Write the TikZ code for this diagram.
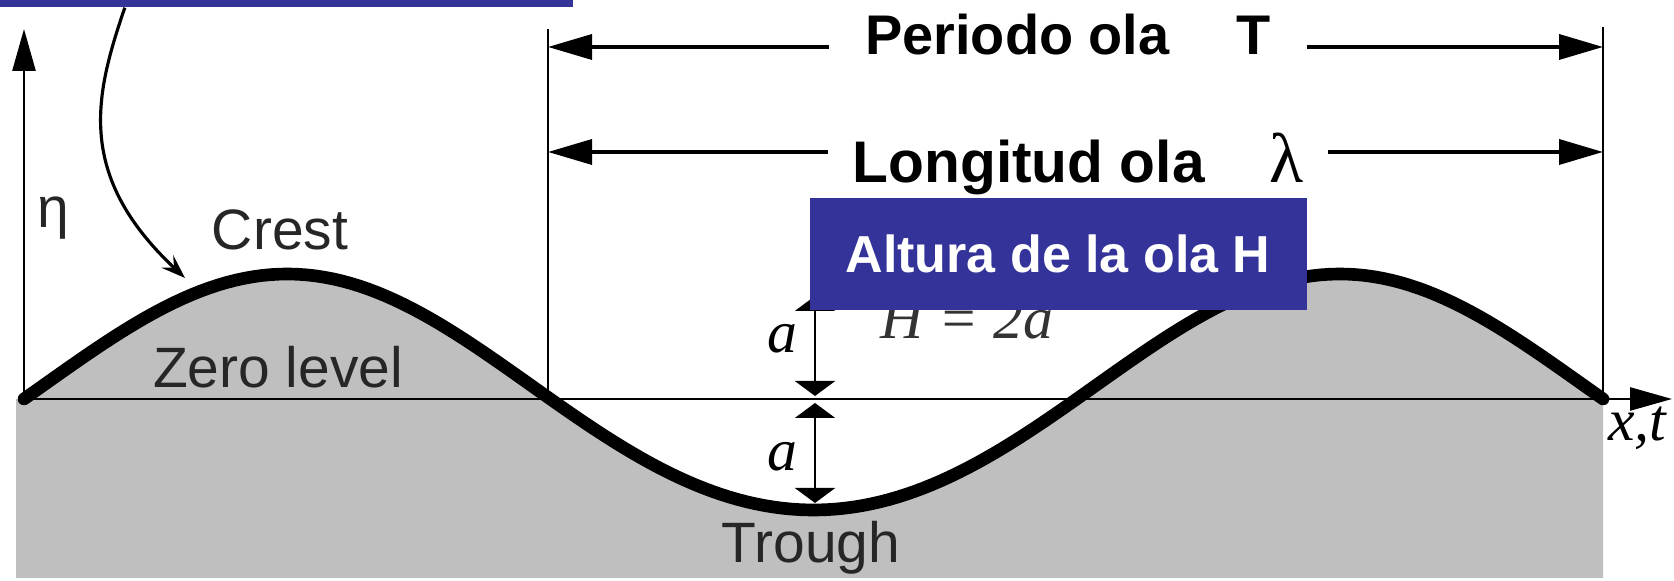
\documentclass[tikz,border=0pt]{standalone}
\usepackage{fontspec}
\setmainfont{Liberation Sans}
\newfontfamily\serifit{Liberation Serif}
\usepackage{tikz}
\usetikzlibrary{arrows.meta, positioning}
\definecolor{seagray}{RGB}{191,191,191}
\definecolor{boxblue}{RGB}{51,51,153}

\begin{document}
\begin{tikzpicture}[
  x=0.1mm, y=-0.1mm,
  wavelabel/.style={
    font=\fontsize{16.2}{19}\selectfont,
    text=black!85,
    inner sep=0pt,
    anchor=base
  },
  mathlabel/.style={
    font=\serifit\itshape\fontsize{17}{20}\selectfont,
    inner sep=0pt,
    anchor=base
  },
  title/.style={
    font=\bfseries\fontsize{15.9}{19}\selectfont,
    anchor=base
  },
  hbox/.style={
    fill=boxblue,
    text=white,
    minimum width=49.7mm,
    minimum height=11.2mm,
    inner sep=0pt,
    font=\bfseries\fontsize{14.8}{17}\selectfont
  },
  callout/.style={
    fill=boxblue,
    minimum width=57.5mm,
    minimum height=8mm,
    inner sep=0pt
  },
  surface/.style={line width=3.6pt, line cap=round, line join=round},
  guide/.style={line width=0.55pt},
  axis/.style={-{Triangle[length=4.2mm,width=2.3mm]}, line width=0.75pt},
  dimarrow/.style={-{Triangle[length=4.4mm,width=2.5mm]}, line width=1pt},
  amp/.style={{Triangle[length=1.5mm,width=4mm]}-{Triangle[length=1.5mm,width=4mm]}, line width=0.7pt},
  pointer/.style={-{Stealth[length=2.4mm,width=1.7mm,inset=0.9mm]}, line width=0.9pt}
]
  \useasboundingbox (0,0) rectangle (1674,581);

  \coordinate (orig) at (24,399);
  \coordinate (ytip) at (24,29);
  \coordinate (xtip) at (1672,399);
  \coordinate (lft) at (548,399);
  \coordinate (lfttop) at (548,29);
  \coordinate (rgt) at (1603,399);
  \coordinate (rgttop) at (1603,27);
  \coordinate (trow) at (548,47);
  \coordinate (lrow) at (548,152);
  \coordinate (crestpt) at (185,278);
  \coordinate (atop) at (815,296);
  \coordinate (amid1) at (815,396);
  \coordinate (amid2) at (815,403);
  \coordinate (abot) at (815,503);

  \fill[seagray] (16,578) -- (16,399)
    -- plot[domain=0:540,samples=180] ({24+2.9241*\x},{399-(118+7*sin(\x))*sin(\x)})
    -- (1603,578) -- cycle;

  \draw[axis] (orig) -- (xtip);
  \draw[axis] (orig) -- (ytip);
  \draw[guide] (lft) -- (lfttop);
  \draw[guide] (rgt) -- (rgttop);
  \draw[surface] plot[domain=0:540,samples=180] ({24+2.9241*\x},{399-(118+7*sin(\x))*sin(\x)});

  \node[wavelabel] (eta) at (53,228) {η};
  \node[wavelabel] (crest) at (280,250) {Crest};
  \node[wavelabel] (zero) at (278,388) {Zero level};
  \node[wavelabel] (trough) at (811,563) {Trough};
  \node[mathlabel] (xt) at (1637,441) {x,t};
  \node[mathlabel] (aup) at (782,353) {a};
  \node[mathlabel] (adown) at (782,471) {a};
  \node[mathlabel, text=black!80] (height) at (967,339) {H = 2a};

  \node[title, inner xsep=3.6mm] (period) at (1068,55) {Periodo ola\hspace{1.2em}T};
  \node[title, font=\bfseries\fontsize{16.7}{19}\selectfont, inner xsep=2.4mm] (length) at (1078,183)
    {Longitud ola\hspace{1.1em}{\serifit\mdseries\fontsize{20}{21}\selectfont λ}};
  \draw[dimarrow] (period.west |- trow) -- (trow);
  \draw[dimarrow] (period.east |- trow) -- (trow -| rgt);
  \draw[dimarrow] (length.west |- lrow) -- (lrow);
  \draw[dimarrow] (length.east |- lrow) -- (lrow -| rgt);

  \draw[amp] (atop) -- (amid1);
  \draw[amp] (amid2) -- (abot);

  \node[hbox] (altura) at (1058,254) {Altura de la ola H};
  \node[callout] (note) at (285,-33) {};
  \draw[pointer] ([xshift=12.8mm]note.south west) .. controls (95,95) and (75,175) .. (crestpt);
\end{tikzpicture}
\end{document}
